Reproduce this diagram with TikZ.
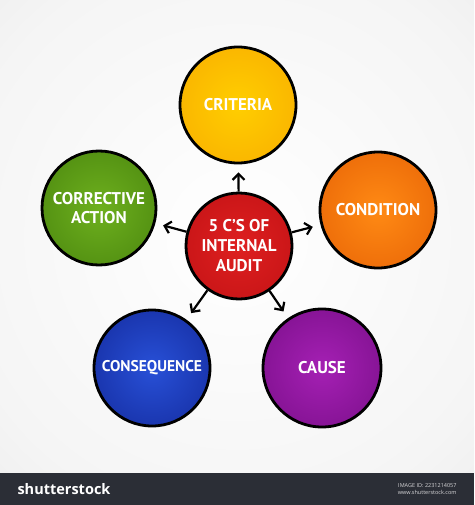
\documentclass[tikz,border=0pt]{standalone}
\usepackage{fontspec}
\setmainfont{PT Sans}
\newfontfamily\logofont{Open Sans}
\usetikzlibrary{arrows.meta}
\definecolor{bgin}{HTML}{FFFFFF}
\definecolor{bgout}{HTML}{E6E6E6}
\definecolor{barcol}{HTML}{2B2E36}
\pgfdeclareradialshading{bgshade}{\pgfpoint{0bp}{0bp}}{color(0bp)=(bgin); color(30bp)=(bgin!60!bgout); color(50bp)=(bgout)}
\pgfdeclareradialshading{critshade}{\pgfpoint{0bp}{0bp}}{color(0bp)=(rgb,255:red,255;green,206;blue,0); color(50bp)=(rgb,255:red,246;green,160;blue,0)}
\pgfdeclareradialshading{condshade}{\pgfpoint{0bp}{0bp}}{color(0bp)=(rgb,255:red,255;green,138;blue,20); color(50bp)=(rgb,255:red,222;green,84;blue,0)}
\pgfdeclareradialshading{corrshade}{\pgfpoint{0bp}{0bp}}{color(0bp)=(rgb,255:red,110;green,176;blue,30); color(50bp)=(rgb,255:red,60;green,118;blue,8)}
\pgfdeclareradialshading{centshade}{\pgfpoint{0bp}{0bp}}{color(0bp)=(rgb,255:red,222;green,32;blue,32); color(50bp)=(rgb,255:red,184;green,12;blue,16)}
\pgfdeclareradialshading{consshade}{\pgfpoint{0bp}{0bp}}{color(0bp)=(rgb,255:red,40;green,80;blue,215); color(50bp)=(rgb,255:red,12;green,28;blue,135)}
\pgfdeclareradialshading{causeshade}{\pgfpoint{0bp}{0bp}}{color(0bp)=(rgb,255:red,165;green,32;blue,180); color(50bp)=(rgb,255:red,105;green,8;blue,120)}
\tikzset{
  ball/.style={circle, draw=black, line width=2.8pt, inner sep=0pt, text=white,
    font=\fontsize{17}{19}\selectfont\bfseries, align=center},
  conn/.style={line width=2.2pt, -{Straight Barb[length=6pt,width=12pt,line width=2.2pt]}, shorten >=8pt}
}
\begin{document}
\begin{tikzpicture}[x=1pt,y=-1pt]
\useasboundingbox (0,0) rectangle (474,505);
\shade[shading=bgshade] (0,0) rectangle (474,473);
\fill[barcol] (0,473) rectangle (474,505);
\node[ball, shading=critshade, minimum size=116pt] (crit) at (238,105) {CRITERIA};
\node[ball, shading=condshade, minimum size=116pt] (cond) at (378,210) {CONDITION};
\node[ball, shading=corrshade, minimum size=114pt] (corr) at (99,208) {CORRECTIVE\\ACTION};
\node[ball, shading=centshade, minimum size=106pt, font=\fontsize{17}{20}\selectfont\bfseries] (cent) at (239,246) {5 C'S OF\\INTERNAL\\AUDIT};
\node[ball, shading=consshade, minimum size=116pt, font=\fontsize{15.5}{19}\selectfont\bfseries] (cons) at (152,368) {CONSEQUENCE};
\node[ball, shading=causeshade, minimum size=118pt] (cause) at (322,368) {CAUSE};
\foreach \t in {crit,cond,corr,cons,cause}
  \draw[conn] (cent) -- (\t);
\node[anchor=west, text=white, font=\logofont\fontsize{14.5}{16}\selectfont\bfseries] (logo) at (14,489) {shutterstock};
\node[anchor=east, text=white!80!barcol, font=\logofont\fontsize{5.5}{7}\selectfont, align=right] (imgid) at (460,489) {IMAGE ID: 2231214057\\www.shutterstock.com};
\end{tikzpicture}
\end{document}
